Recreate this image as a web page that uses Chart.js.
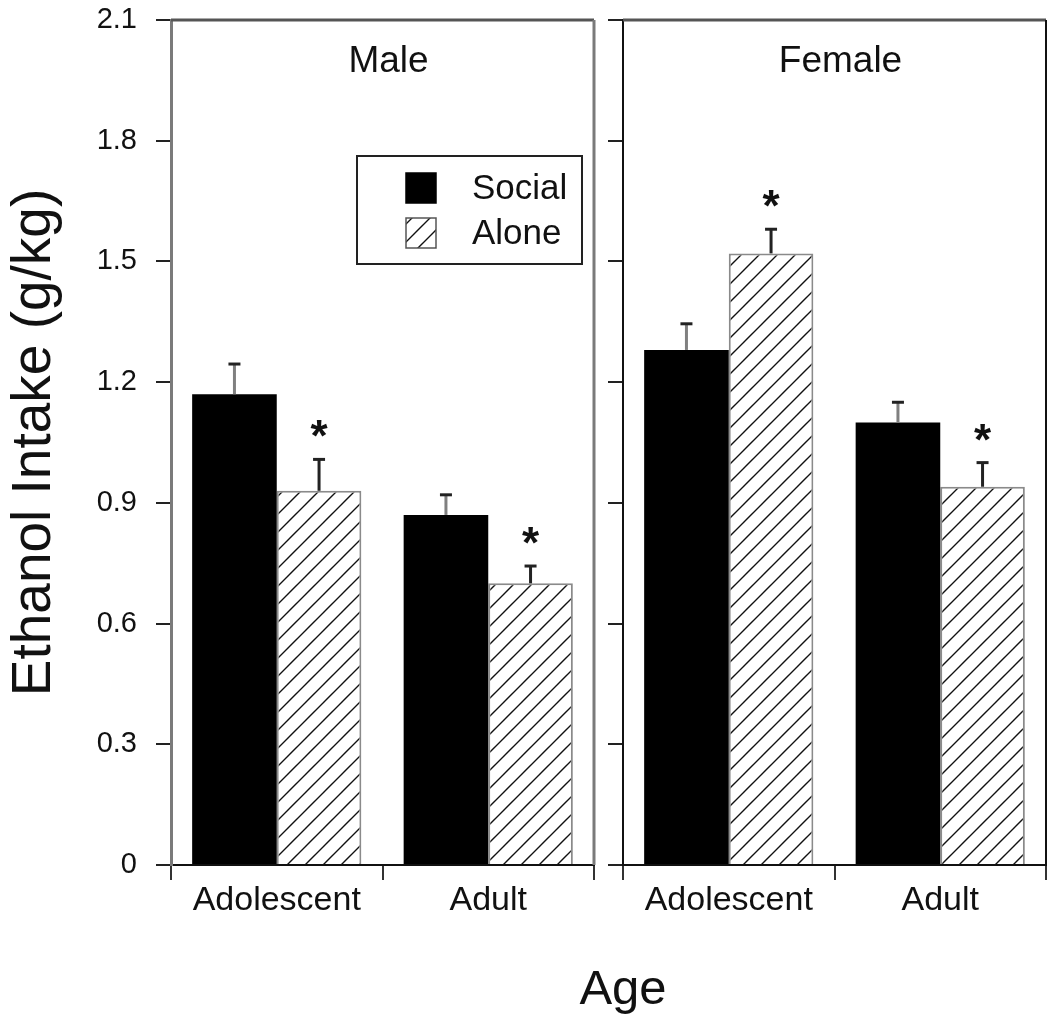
<!DOCTYPE html>
<html>
<head>
<meta charset="utf-8">
<script src="https://cdn.jsdelivr.net/npm/chart.js@4.4.1/dist/chart.umd.min.js"></script>
<style>
  body { margin: 0; background: #fff; }
  #wrap { position: relative; width: 1050px; height: 1031px; font-family: "Liberation Sans", Arial, sans-serif; }
  .panel { position: absolute; top: 0; height: 940px; }
  #age { position: absolute; left: 523px; top: 963px; width: 200px; text-align: center; font-size: 49px; line-height: 49px; color: #111; }
</style>
</head>
<body>
<div id="wrap">
  <div class="panel" style="left:0;width:600px"><canvas id="male"></canvas></div>
  <div class="panel" style="left:600px;width:450px"><canvas id="female"></canvas></div>
  <div id="age">Age</div>
</div>
<script>
const FONT = '"Liberation Sans", Arial, sans-serif';

const categories = ["Adolescent", "Adult"];
const seriesNames = ["Social", "Alone"];

const maleSocial = [1.17, 0.87];
const maleSocialErr = [0.075, 0.05];
const maleAlone = [0.93, 0.70];
const maleAloneErr = [0.078, 0.043];
const maleAloneSig = [true, true];

const femaleSocial = [1.28, 1.10];
const femaleSocialErr = [0.065, 0.05];
const femaleAlone = [1.52, 0.94];
const femaleAloneErr = [0.06, 0.06];
const femaleAloneSig = [true, true];

const yMin = 0, yMax = 2.1, yStep = 0.3;

// diagonal hatch for the "Alone" bars
function makeHatch() {
  const s = 18;
  const c = document.createElement("canvas");
  c.width = s; c.height = s;
  const g = c.getContext("2d");
  g.fillStyle = "#fff";
  g.fillRect(0, 0, s, s);
  g.strokeStyle = "#111";
  g.lineWidth = 1.4;
  g.beginPath();
  g.moveTo(-2, s + 2); g.lineTo(s + 2, -2);
  g.moveTo(-2, 2); g.lineTo(2, -2);
  g.moveTo(s - 2, s + 2); g.lineTo(s + 2, s - 2);
  g.stroke();
  return g.createPattern(c, "repeat");
}
const hatch = makeHatch();

const errorBars = {
  id: "errorBars",
  afterDatasetsDraw(chart) {
    const ctx = chart.ctx;
    const y = chart.scales.y;
    chart.data.datasets.forEach((ds, di) => {
      const meta = chart.getDatasetMeta(di);
      meta.data.forEach((bar, i) => {
        const top = y.getPixelForValue(ds.data[i] + ds.err[i]);
        ctx.save();
        ctx.strokeStyle = di === 0 ? "#808080" : "#222";
        ctx.lineWidth = 3;
        ctx.beginPath();
        ctx.moveTo(bar.x, bar.y);
        ctx.lineTo(bar.x, top);
        ctx.stroke();
        ctx.strokeStyle = "#222";
        ctx.beginPath();
        ctx.moveTo(bar.x - 6, top);
        ctx.lineTo(bar.x + 6, top);
        ctx.stroke();
        if (ds.sig && ds.sig[i]) {
          ctx.fillStyle = "#111";
          ctx.font = "bold 44px " + FONT;
          ctx.textAlign = "center";
          ctx.textBaseline = "alphabetic";
          ctx.fillText("*", bar.x, top - 33 + 25);
        }
        ctx.restore();
      });
    });
  }
};

const frame = {
  id: "frame",
  afterDraw(chart, args, opts) {
    const a = chart.chartArea;
    const ctx = chart.ctx;
    ctx.save();
    ctx.strokeStyle = opts.topColor;
    ctx.lineWidth = 3;
    ctx.beginPath();
    ctx.moveTo(a.left, a.top);
    ctx.lineTo(a.right, a.top);
    ctx.stroke();
    ctx.strokeStyle = opts.sideColor;
    ctx.lineWidth = opts.sideWidth;
    ctx.beginPath();
    ctx.moveTo(a.right, a.top);
    ctx.lineTo(a.right, a.bottom);
    ctx.stroke();
    ctx.fillStyle = "#111";
    ctx.font = "37px " + FONT;
    ctx.textAlign = "center";
    ctx.textBaseline = "alphabetic";
    ctx.fillText(opts.title, (a.left + a.right) / 2 + 6, 72);
    ctx.restore();
  }
};

const boxLegend = {
  id: "boxLegend",
  afterDraw(chart, args, opts) {
    if (!opts.show) return;
    const ctx = chart.ctx;
    const x0 = 357, y0 = 156;
    ctx.save();
    ctx.fillStyle = "#fff";
    ctx.fillRect(x0, y0, 225, 108);
    ctx.strokeStyle = "#222";
    ctx.lineWidth = 2;
    ctx.strokeRect(x0, y0, 225, 108);
    chart.data.datasets.forEach((ds, i) => {
      const sy = y0 + 17 + i * 45;
      ctx.fillStyle = ds.backgroundColor;
      ctx.fillRect(x0 + 49, sy, 30, 30);
      ctx.strokeStyle = i === 0 ? "#000" : "#555";
      ctx.lineWidth = 1.5;
      ctx.strokeRect(x0 + 49, sy, 30, 30);
      ctx.fillStyle = "#111";
      ctx.font = "35px " + FONT;
      ctx.textAlign = "left";
      ctx.textBaseline = "middle";
      ctx.fillText(ds.label, x0 + 115, sy + 16);
    });
    ctx.restore();
  }
};

function makePanel(id, title, social, socialErr, alone, aloneErr, aloneSig, first) {
  const axisColor = first ? "#7a7a7a" : "#111";
  return new Chart(document.getElementById(id), {
    type: "bar",
    data: {
      labels: categories,
      datasets: [
        { label: seriesNames[0], data: social, err: socialErr, backgroundColor: "#000",
          borderWidth: 0, categoryPercentage: 0.8, barPercentage: 1.0 },
        { label: seriesNames[1], data: alone, err: aloneErr, sig: aloneSig, backgroundColor: hatch,
          borderColor: "#8a8a8a", borderWidth: 2, categoryPercentage: 0.8, barPercentage: 1.0 }
      ]
    },
    options: {
      responsive: true,
      maintainAspectRatio: false,
      animation: false,
      layout: { padding: { top: 20, right: first ? 6 : 4, left: 0, bottom: 0 } },
      plugins: {
        legend: { display: false },
        tooltip: { enabled: false },
        frame: { title: title, topColor: "#555", sideColor: axisColor, sideWidth: first ? 3 : 2 },
        boxLegend: { show: first }
      },
      scales: {
        x: {
          grid: { display: true, drawOnChartArea: false, offset: true, tickLength: 15, color: "#333", lineWidth: 2 },
          border: { display: true, color: "#111", width: 2 },
          ticks: { color: "#111", font: { family: FONT, size: 34 }, padding: 0, maxRotation: 0 },
          afterFit(s) { s.height = 75; }
        },
        y: {
          min: yMin,
          max: yMax,
          grid: { display: true, drawOnChartArea: false, tickLength: 15, color: "#222", lineWidth: 2 },
          border: { display: true, color: axisColor, width: first ? 3 : 2 },
          ticks: {
            display: first,
            stepSize: yStep,
            color: "#111",
            padding: 19,
            font: { family: FONT, size: 29 },
            callback: v => (Math.abs(v) < 1e-9 ? "0" : Number(v).toFixed(1))
          },
          title: {
            display: first,
            text: "Ethanol Intake (g/kg)",
            color: "#111",
            font: { family: FONT, size: 55 },
            padding: { top: 2, bottom: 0 }
          },
          afterFit(s) {
            s.width = first ? 171 : 23;
            s.paddingTop = 0;
            s.paddingBottom = 0;
          }
        }
      }
    },
    plugins: [errorBars, frame, boxLegend]
  });
}

const male = makePanel("male", "Male", maleSocial, maleSocialErr, maleAlone, maleAloneErr, maleAloneSig, true);
const female = makePanel("female", "Female", femaleSocial, femaleSocialErr, femaleAlone, femaleAloneErr, femaleAloneSig, false);
</script>
</body>
</html>
